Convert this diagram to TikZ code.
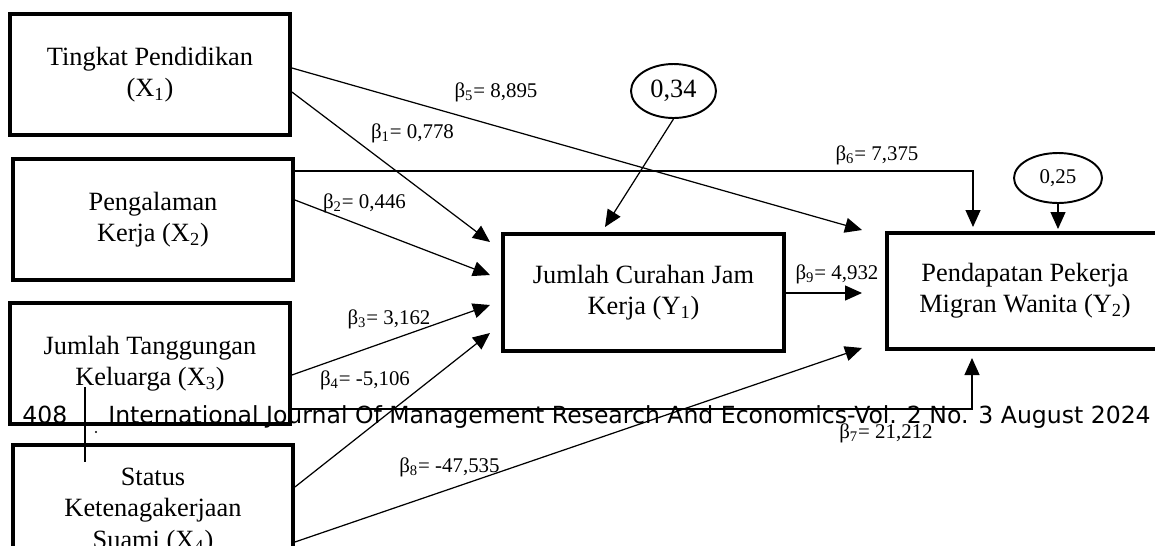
\documentclass[tikz,border=0pt]{standalone}
\usepackage{fontspec}
\setmainfont{Liberation Serif}
\newfontfamily\footfont{DejaVu Sans}
\usetikzlibrary{arrows.meta,shapes.geometric}

\tikzset{
  varbox/.style={draw,line width=2.2pt,minimum width=5.6cm,minimum height=2.42cm,
    align=center,inner sep=0pt,font=\fontsize{15}{17.8}\selectfont},
  errnode/.style={draw,ellipse,line width=1.1pt,inner sep=0pt},
  arrowline/.style={line width=0.7pt,-{Triangle[length=0.34cm,width=0.3cm]}},
  coef/.style={inner sep=0pt,font=\fontsize{11.9}{14}\selectfont},
  foot/.style={anchor=base west,inner sep=0pt,font=\footfont\fontsize{13.4}{16}\selectfont}
}

\begin{document}
\begin{tikzpicture}[x=0.02cm,y=-0.02cm]
\useasboundingbox (0,0) rectangle (1155,545);
\clip (0,0) rectangle (1155,545);
\node[varbox] (x1) at (150,74.5) {Tingkat Pendidikan\\(X\textsubscript{1})};
\node[varbox] (x2) at (153,219.5) {Pengalaman\\Kerja (X\textsubscript{2})};
\node[varbox] (x3) at (150,363.5) {Jumlah Tanggungan\\Keluarga (X\textsubscript{3})};
\node[varbox,minimum height=2.64cm] (x4) at (153,511) {Status\\Ketenagakerjaan\\Suami (X\textsubscript{4})};
\node[varbox,minimum width=5.62cm,minimum height=2.34cm] (y1) at (643.5,292.5) {Jumlah Curahan Jam\\Kerja (Y\textsubscript{1})};
\node[varbox,minimum width=5.52cm,minimum height=2.32cm] (y2) at (1025,291) {Pendapatan Pekerja\\Migran Wanita (Y\textsubscript{2})};
\node[errnode,minimum width=1.7cm,minimum height=1.08cm,font=\fontsize{15}{17}\selectfont] (e1) at (673.5,91) {0,34};
\node[errnode,minimum width=1.76cm,minimum height=1cm,font=\fontsize{11.9}{14}\selectfont] (e2) at (1058,178) {0,25};
% arrow tips
\coordinate (t1) at (490,242);
\coordinate (t2) at (490,275);
\coordinate (t3) at (490,305);
\coordinate (t4) at (490,333);
\coordinate (t5) at (862,230);
\coordinate (t6) at (973,227);
\coordinate (t7) at (972,358);
\coordinate (t8) at (862,348);
\coordinate (t9) at (862,293);
\coordinate (te1) at (605,227);
\coordinate (te2) at (1058,229);
\draw[arrowline] (x1.east |- 0,92) -- (t1);
\draw[arrowline] (x2.east |- 0,200) -- (t2);
\draw[arrowline] (x3.east |- 0,375) -- (t3);
\draw[arrowline] (x4.east |- 0,487) -- (t4);
\draw[arrowline] (x1.east |- 0,68) -- (t5);
\draw[arrowline] (x2.east |- 0,171) -| (t6);
\draw[arrowline] (x3.east |- 0,409) -| (t7);
\draw[arrowline] (x4.east |- 0,542) -- (t8);
\draw[arrowline] (y1.east |- t9) -- (t9);
\draw[arrowline] (e1.south) -- (te1);
\draw[arrowline] (e2.south) -- (te2);
\node[coef] (b1) at (412.5,133) {β\textsubscript{1}= 0,778};
\node[coef] (b2) at (364.5,203) {β\textsubscript{2}= 0,446};
\node[coef] (b3) at (389,319) {β\textsubscript{3}= 3,162};
\node[coef] (b4) at (365,380) {β\textsubscript{4}= -5,106};
\node[coef] (b5) at (496,92) {β\textsubscript{5}= 8,895};
\node[coef] (b6) at (877,155) {β\textsubscript{6}= 7,375};
\node[coef] (b7) at (886,433) {β\textsubscript{7}= 21,212};
\node[coef] (b8) at (449.5,467) {β\textsubscript{8}= -47,535};
\node[coef] (b9) at (837,274) {β\textsubscript{9}= 4,932};
% page footer
\node[foot] (pg) at (22,423) {408};
\node[foot] (jt) at (108,423) {International Journal Of Management Research And Economics-Vol. 2 No. 3 August 2024};
\draw[line width=1.4pt] (85,387) -- (85,462);
\fill (96,432) circle (0.6pt);
\end{tikzpicture}
\end{document}
